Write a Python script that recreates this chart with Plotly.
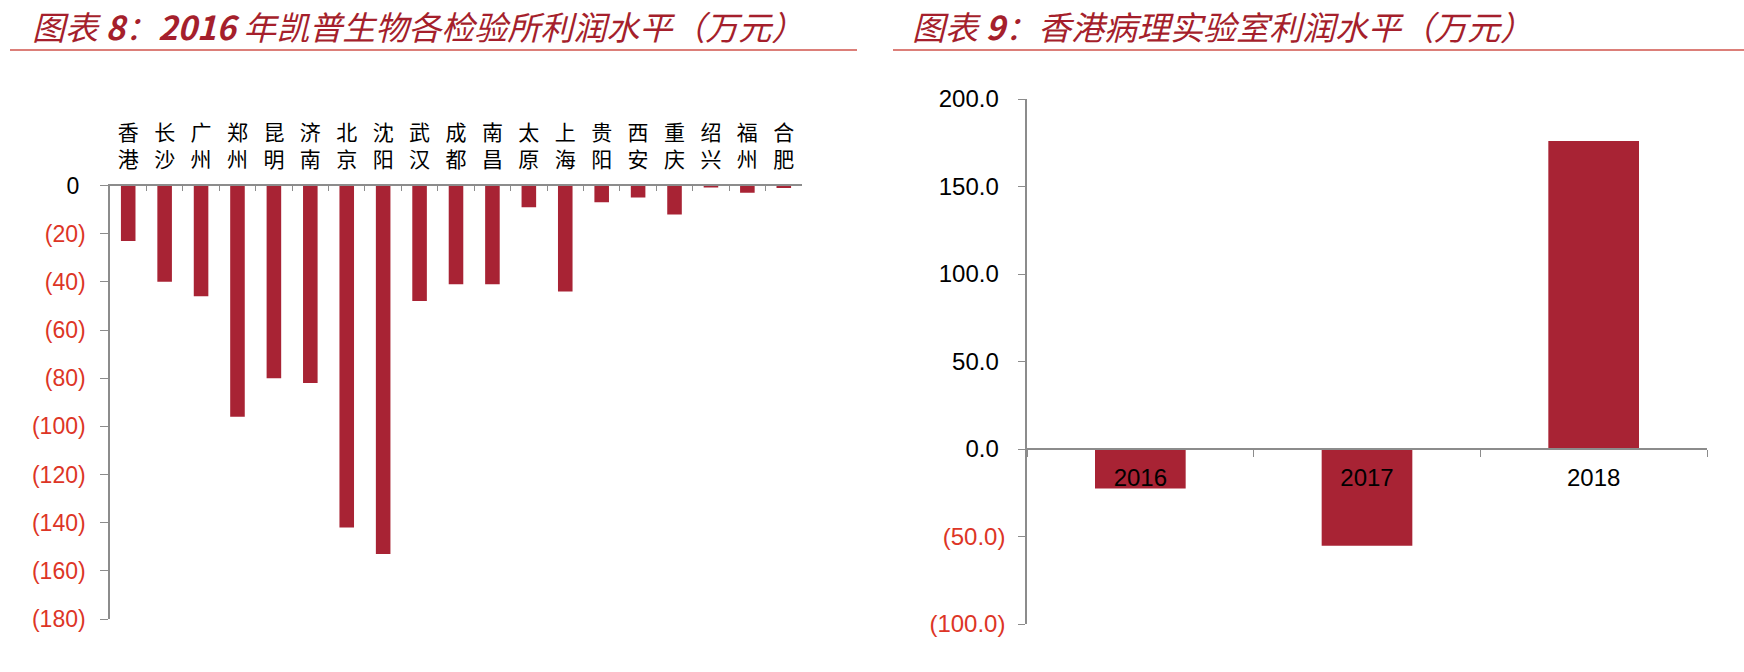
import plotly.graph_objects as go

# ---------------- data ----------------
cities = ["香港", "长沙", "广州", "郑州", "昆明", "济南", "北京", "沈阳", "武汉", "成都",
          "南昌", "太原", "上海", "贵阳", "西安", "重庆", "绍兴", "福州", "合肥"]
city_profit = [-23, -40, -46, -96, -80, -82, -142, -153, -48, -41,
               -41, -9, -44, -7, -5, -12, -0.5, -3, -1]

years = ["2016", "2017", "2018"]
hk_profit = [-22.5, -55.3, 176.0]

left_tickvals = [0, -20, -40, -60, -80, -100, -120, -140, -160, -180]
left_ticktext = ["0", "(20)", "(40)", "(60)", "(80)", "(100)", "(120)", "(140)", "(160)", "(180)"]
right_tickvals = [200, 150, 100, 50, 0, -50, -100]
right_ticktext = ["200.0", "150.0", "100.0", "50.0", "0.0", "(50.0)", "(100.0)"]

title_left = "<i>图表 <b>8</b>：<b>2016</b> 年凯普生物各检验所利润水平（万元）</i>"
title_right = "<i>图表 <b>9</b>：香港病理实验室利润水平（万元）</i>"

# ---------------- style ----------------
W, H = 1744, 672
BAR = "#A82334"
TITLE_C = "#A51F2C"
NEG_C = "#DD3526"
AX_C = "#8C8C8C"
NUM_FONT = "Liberation Sans, Arial, sans-serif"
CJK_FONT = "Noto Sans CJK SC, sans-serif"


def colored(labels, vals):
    out = []
    for t, v in zip(labels, vals):
        if v < 0:
            out.append(f'<span style="color:{NEG_C}">{t}</span>')
        else:
            out.append(t + "\u00a0")
    return out


fig = go.Figure()
fig.add_trace(go.Bar(x=[c[0] + "<br>" + c[1] for c in cities], y=city_profit,
                     marker=dict(color=BAR, line=dict(width=0)),
                     xaxis="x", yaxis="y", showlegend=False))
fig.add_trace(go.Bar(x=years, y=hk_profit,
                     marker=dict(color=BAR, line=dict(width=0)),
                     xaxis="x2", yaxis="y2", showlegend=False))

fig.update_layout(
    width=W, height=H, autosize=False,
    margin=dict(l=0, r=0, t=0, b=0),
    paper_bgcolor="white", plot_bgcolor="white",
    bargap=0.6,
    xaxis=dict(domain=[110 / W, 802 / W], anchor="y", side="top", type="category",
               showline=True, linecolor=AX_C, linewidth=1.5,
               ticks="inside", tickson="boundaries", ticklen=6, tickcolor=AX_C,
               tickfont=dict(family=CJK_FONT, size=21, color="#000000"),
               showgrid=False, zeroline=False, automargin=False,
               ticklabelstandoff=8),
    yaxis=dict(domain=[1 - 619 / H, 1 - 185.5 / H], anchor="x", range=[-180, 0],
               tickvals=left_tickvals, ticktext=colored(left_ticktext, left_tickvals),
               showline=True, linecolor=AX_C, linewidth=1.5,
               ticks="outside", ticklen=8, tickcolor=AX_C,
               tickfont=dict(family=NUM_FONT, size=23, color="#000000"),
               showgrid=False, zeroline=False, automargin=False,
               ticklabelstandoff=10),
    xaxis2=dict(domain=[1027 / W, 1707 / W], anchor="free", position=1 - 449 / H,
                type="category",
                showline=True, linecolor=AX_C, linewidth=1.5,
                ticks="outside", tickson="boundaries", ticklen=7, tickcolor=AX_C,
                tickfont=dict(family=NUM_FONT, size=24, color="#000000"),
                showgrid=False, zeroline=False, automargin=False,
                ticklabelstandoff=7),
    yaxis2=dict(domain=[1 - 624 / H, 1 - 99 / H], anchor="x2", range=[-100, 200],
                tickvals=right_tickvals, ticktext=colored(right_ticktext, right_tickvals),
                showline=True, linecolor=AX_C, linewidth=1.5,
                ticks="outside", ticklen=7, tickcolor=AX_C,
                tickfont=dict(family=NUM_FONT, size=24, color="#000000"),
                showgrid=False, zeroline=False, automargin=False,
                ticklabelstandoff=8),
    annotations=[
        dict(text=title_left, x=30 / W, y=1 - 26 / H, xref="paper", yref="paper",
             xanchor="left", yanchor="middle", showarrow=False,
             font=dict(family=CJK_FONT, size=33, color=TITLE_C)),
        dict(text=title_right, x=910 / W, y=1 - 26 / H, xref="paper", yref="paper",
             xanchor="left", yanchor="middle", showarrow=False,
             font=dict(family=CJK_FONT, size=33, color=TITLE_C)),
    ],
    shapes=[
        dict(type="line", xref="paper", yref="paper", x0=10 / W, x1=857 / W,
             y0=1 - 50 / H, y1=1 - 50 / H, line=dict(color="#D0554C", width=1.5)),
        dict(type="line", xref="paper", yref="paper", x0=893 / W, x1=1.0,
             y0=1 - 50 / H, y1=1 - 50 / H, line=dict(color="#D0554C", width=1.5)),
    ],
)

fig.write_html("out.html", config={"displayModeBar": False},
               post_script="document.body.style.margin='0';")
